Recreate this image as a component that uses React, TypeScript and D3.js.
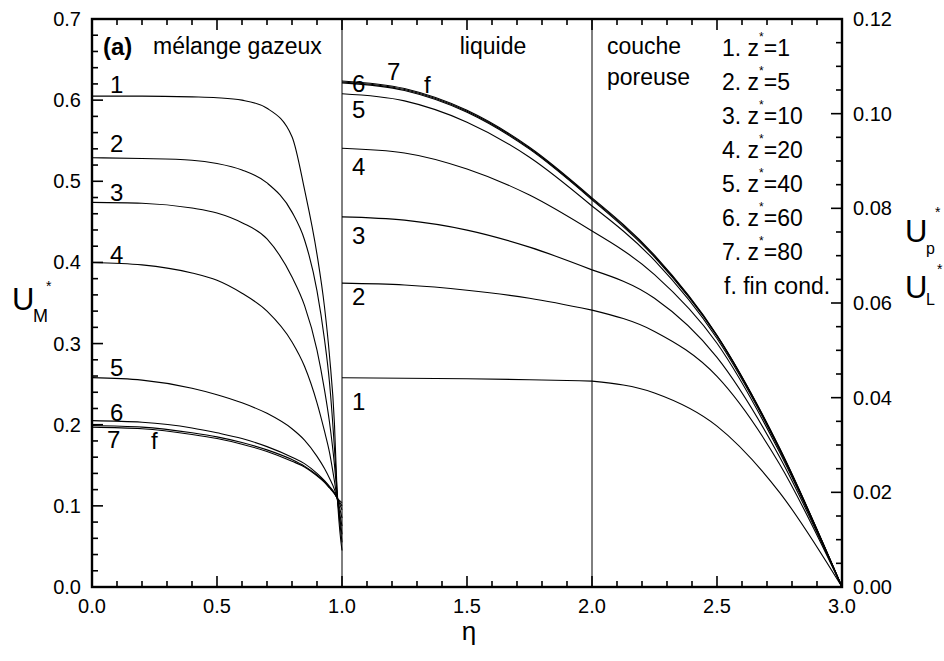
import React from "react";
import * as d3 from "d3";

// ---- data ----
const gasEta = [0, 0.2, 0.4, 0.5, 0.6, 0.7, 0.8, 0.85, 0.9, 0.93, 0.95, 0.97, 0.98, 1.0];
const gas1 = [0.605, 0.605, 0.604, 0.603, 0.6, 0.59, 0.555, 0.49, 0.41, 0.345, 0.285, 0.2, 0.12, 0.045];
const gas2 = [0.529, 0.528, 0.526, 0.522, 0.514, 0.498, 0.462, 0.428, 0.365, 0.305, 0.252, 0.17, 0.12, 0.055];
const gas3 = [0.474, 0.473, 0.467, 0.461, 0.449, 0.429, 0.382, 0.347, 0.292, 0.243, 0.203, 0.15, 0.115, 0.065];
const gas4 = [0.4, 0.397, 0.387, 0.378, 0.362, 0.34, 0.302, 0.272, 0.227, 0.192, 0.166, 0.13, 0.11, 0.075];
const gas5 = [0.258, 0.255, 0.245, 0.237, 0.227, 0.214, 0.195, 0.181, 0.161, 0.146, 0.134, 0.12, 0.11, 0.085];
const gas6 = [0.205, 0.203, 0.196, 0.19, 0.183, 0.173, 0.16, 0.152, 0.14, 0.131, 0.124, 0.116, 0.11, 0.095];
const gas7 = [0.199, 0.197, 0.19, 0.185, 0.178, 0.169, 0.157, 0.149, 0.138, 0.13, 0.123, 0.115, 0.11, 0.1];
const gasF = [0.197, 0.195, 0.188, 0.183, 0.176, 0.167, 0.155, 0.148, 0.137, 0.129, 0.122, 0.115, 0.11, 0.104];

const liqEta = [1, 1.25, 1.5, 1.75, 2];
const liq1 = [0.0442, 0.0441, 0.044, 0.0438, 0.0435];
const liq2 = [0.0642, 0.0638, 0.0627, 0.061, 0.0585];
const liq3 = [0.0782, 0.0775, 0.0754, 0.0718, 0.067];
const liq4 = [0.0927, 0.0917, 0.0883, 0.0828, 0.0752];
const liq5 = [0.1042, 0.1027, 0.0982, 0.0908, 0.0805];
const liq6 = [0.1065, 0.1049, 0.1003, 0.0925, 0.0818];
const liq7 = [0.1067, 0.1051, 0.1005, 0.0927, 0.082];
const liqF = [0.1069, 0.1053, 0.1007, 0.0929, 0.0822];

const porEta = [2, 2.25, 2.5, 2.75, 3];
const por1 = [0.0435, 0.041, 0.034, 0.02, 0];
const por2 = [0.0585, 0.054, 0.0445, 0.026, 0];
const por3 = [0.067, 0.061, 0.0485, 0.0275, 0];
const por4 = [0.0752, 0.066, 0.0515, 0.0285, 0];
const por5 = [0.0805, 0.069, 0.0525, 0.029, 0];
const por6 = [0.0818, 0.0697, 0.053, 0.0292, 0];
const por7 = [0.082, 0.0699, 0.0531, 0.0293, 0];
const porF = [0.0822, 0.0701, 0.0532, 0.0294, 0];

const gasSeries = [gas1, gas2, gas3, gas4, gas5, gas6, gas7, gasF];
const liqSeries = [liq1, liq2, liq3, liq4, liq5, liq6, liq7, liqF];
const porSeries = [por1, por2, por3, por4, por5, por6, por7, porF];

const xTicks = [0, 0.5, 1.0, 1.5, 2.0, 2.5, 3.0];
const yLeftTicks = [0, 0.1, 0.2, 0.3, 0.4, 0.5, 0.6, 0.7];
const yRightTicks = [0, 0.02, 0.04, 0.06, 0.08, 0.1, 0.12];

const legendItems = ["1", "5", "10", "20", "40", "60", "80"];

const FONT = "'Liberation Sans', Arial, Helvetica, sans-serif";

export default function App() {
  const W = 944, H = 661;
  const L = 92, R = 842, T = 19, B = 587;
  const x = d3.scaleLinear().domain([0, 3]).range([L, R]);
  const yL = d3.scaleLinear().domain([0, 0.7]).range([B, T]);
  const yR = d3.scaleLinear().domain([0, 0.12]).range([B, T]);

  const mk = (etas: number[], ys: d3.ScaleLinear<number, number>) =>
    d3
      .line<number>()
      .x((_, i) => x(etas[i]))
      .y((v) => ys(v))
      .curve(d3.curveMonotoneX);

  const gasLine = mk(gasEta, yL);
  const liqLine = mk(liqEta, yR);
  const porLine = mk(porEta, yR);

  const xMinor = d3.range(0, 30.001, 1).map((d) => d / 10);
  const yLMinor = d3.range(0, 35.001, 1).map((d) => d / 50);
  const yRMinor = d3.range(0, 24.001, 1).map((d) => d / 200);
  const isMajor = (v: number, step: number) => Math.abs(v / step - Math.round(v / step)) < 1e-6;

  const MAJ = 11, MIN = 6;
  const tickStroke = 1.6;

  const fx1 = d3.format(".1f");
  const fx2 = d3.format(".2f");

  const curveLabelsGas = [
    { t: "1", x: 110, y: 93 },
    { t: "2", x: 110, y: 152 },
    { t: "3", x: 110, y: 201 },
    { t: "4", x: 110, y: 263 },
    { t: "5", x: 110, y: 376 },
    { t: "6", x: 110, y: 421 },
    { t: "7", x: 107, y: 448 },
    { t: "f", x: 151, y: 449 },
  ];
  const curveLabelsLiq = [
    { t: "6", x: 352, y: 92 },
    { t: "7", x: 387, y: 80 },
    { t: "f", x: 424, y: 93 },
    { t: "5", x: 352, y: 118 },
    { t: "4", x: 352, y: 175 },
    { t: "3", x: 352, y: 244 },
    { t: "2", x: 352, y: 305 },
    { t: "1", x: 352, y: 410 },
  ];

  return (
    <svg
      width={W}
      height={H}
      viewBox={`0 0 ${W} ${H}`}
      style={{ position: "absolute", left: 0, top: 0, background: "#fff" }}
      fontFamily={FONT}
    >
      <rect x={0} y={0} width={W} height={H} fill="#fff" />

      {/* region dividers */}
      {[1, 2].map((v) => (
        <line key={v} x1={x(v)} x2={x(v)} y1={T} y2={B} stroke="#000" strokeWidth={1} />
      ))}

      {/* curves */}
      <g fill="none" stroke="#000" strokeWidth={1.1}>
        {gasSeries.map((s, i) => (
          <path key={"g" + i} d={gasLine(s) || ""} />
        ))}
        {liqSeries.map((s, i) => (
          <path key={"l" + i} d={liqLine(s) || ""} />
        ))}
        {porSeries.map((s, i) => (
          <path key={"p" + i} d={porLine(s) || ""} />
        ))}
      </g>

      {/* ticks */}
      <g stroke="#000" strokeWidth={tickStroke}>
        {xMinor.map((v) => {
          const len = isMajor(v, 0.5) ? MAJ : MIN;
          return (
            <g key={"xt" + v}>
              <line x1={x(v)} x2={x(v)} y1={B} y2={B - len} />
              <line x1={x(v)} x2={x(v)} y1={T} y2={T + len} />
            </g>
          );
        })}
        {yLMinor.map((v) => {
          const len = isMajor(v, 0.1) ? MAJ : MIN;
          return <line key={"yl" + v} x1={L} x2={L + len} y1={yL(v)} y2={yL(v)} />;
        })}
        {yRMinor.map((v) => {
          const len = isMajor(v, 0.02) ? MAJ : MIN;
          return <line key={"yr" + v} x1={R} x2={R - len} y1={yR(v)} y2={yR(v)} />;
        })}
      </g>

      {/* frame */}
      <rect x={L} y={T} width={R - L} height={B - T} fill="none" stroke="#000" strokeWidth={2.4} />

      {/* tick labels */}
      <g fontSize={20} fill="#000">
        {xTicks.map((v) => (
          <text key={"xl" + v} x={x(v)} y={613} textAnchor="middle">
            {fx1(v)}
          </text>
        ))}
        {yLeftTicks.map((v) => (
          <text key={"yll" + v} x={81} y={yL(v) + 7} textAnchor="end">
            {fx1(v)}
          </text>
        ))}
        {yRightTicks.map((v) => (
          <text key={"yrl" + v} x={853} y={yR(v) + 7} textAnchor="start">
            {fx2(v)}
          </text>
        ))}
      </g>

      {/* axis titles */}
      <text x={469} y={640} fontSize={26} textAnchor="middle">η</text>
      <g>
        <text x={12} y={310} fontSize={31}>U</text>
        <text x={33} y={322} fontSize={18}>M</text>
        <text x={46} y={291} fontSize={14}>*</text>
      </g>
      <g>
        <text x={905} y={242} fontSize={31}>U</text>
        <text x={926} y={254} fontSize={16}>p</text>
        <text x={935} y={217} fontSize={14}>*</text>
        <text x={905} y={298} fontSize={31}>U</text>
        <text x={926} y={305} fontSize={16}>L</text>
        <text x={937} y={274} fontSize={14}>*</text>
      </g>

      {/* region titles */}
      <g fontSize={23} fill="#000">
        <text x={103} y={55} fontWeight="bold" fontSize={24}>(a)</text>
        <text x={153} y={54}>mélange gazeux</text>
        <text x={493} y={54} textAnchor="middle">liquide</text>
        <text x={607} y={54}>couche</text>
        <text x={607} y={85}>poreuse</text>
      </g>

      {/* legend */}
      <g fontSize={23} fill="#000">
        {legendItems.map((z, i) => (
          <text key={"lg" + i} x={722} y={56 + i * 34}>
            {`${i + 1}. z`}
            <tspan fontSize={12} dy={-15}>*</tspan>
            <tspan dy={15}>{`=${z}`}</tspan>
          </text>
        ))}
        <text x={724} y={56 + 7 * 34}>f. fin cond.</text>
      </g>

      {/* curve labels */}
      <g fontSize={24} fill="#000">
        {curveLabelsGas.map((c, i) => (
          <text key={"cg" + i} x={c.x} y={c.y}>{c.t}</text>
        ))}
        {curveLabelsLiq.map((c, i) => (
          <text key={"cl" + i} x={c.x} y={c.y}>{c.t}</text>
        ))}
      </g>
    </svg>
  );
}
